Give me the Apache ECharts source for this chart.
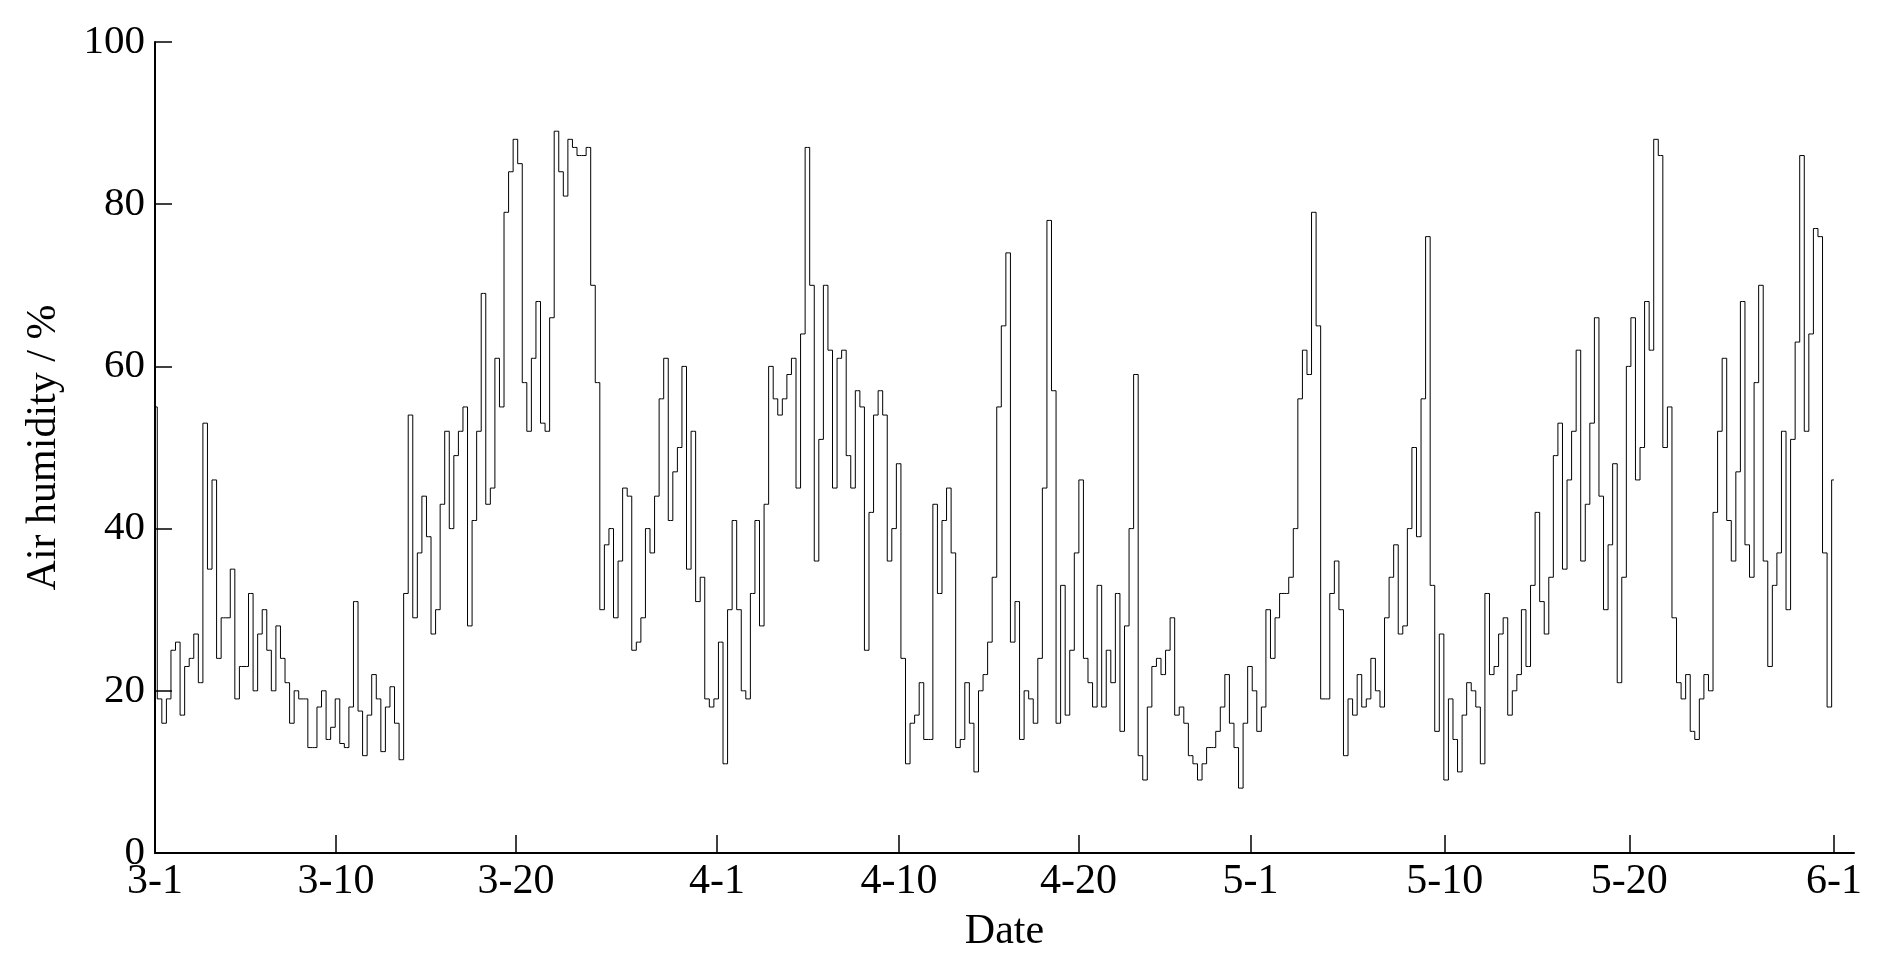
<!DOCTYPE html>
<html>
<head>
<meta charset="utf-8">
<script src="https://cdn.jsdelivr.net/npm/echarts@6/dist/echarts.min.js"></script>
<style>
  html, body { margin: 0; padding: 0; background: #fff; }
  #main { width: 1902px; height: 979px; }
</style>
</head>
<body>
<div id="main"></div>
<script>
// air humidity, one reading every 6 hours from 3-1 (day 0)
var stepDays = 0.25;
var humidity = [
  55, 19, 16, 19, 25, 26, 17, 23, 24, 27, 21, 53, 35, 46, 24, 29, 29, 35, 19, 23,
  23, 32, 20, 27, 30, 25, 20, 28, 24, 21, 16, 20, 19, 19, 13, 13, 18, 20, 14, 15.5,
  19, 13.5, 13, 18, 31, 17.5, 12, 17, 22, 19, 12.5, 18, 20.5, 16, 11.5, 32, 54, 29, 37, 44,
  39, 27, 30, 43, 52, 40, 49, 52, 55, 28, 41, 52, 69, 43, 45, 61, 55, 79, 84, 88,
  85, 58, 52, 61, 68, 53, 52, 66, 89, 84, 81, 88, 87, 86, 86, 87, 70, 58, 30, 38,
  40, 29, 36, 45, 44, 25, 26, 29, 40, 37, 44, 56, 61, 41, 47, 50, 60, 35, 52, 31,
  34, 19, 18, 19, 26, 11, 30, 41, 30, 20, 19, 32, 41, 28, 43, 60, 56, 54, 56, 59,
  61, 45, 64, 87, 70, 36, 51, 70, 62, 45, 61, 62, 49, 45, 57, 55, 25, 42, 54, 57,
  54, 36, 40, 48, 24, 11, 16, 17, 21, 14, 14, 43, 32, 41, 45, 37, 13, 14, 21, 16,
  10, 20, 22, 26, 34, 55, 65, 74, 26, 31, 14, 20, 19, 16, 24, 45, 78, 57, 16, 33,
  17, 25, 37, 46, 24, 21, 18, 33, 18, 25, 21, 32, 15, 28, 40, 59, 12, 9, 18, 23,
  24, 22, 25, 29, 17, 18, 16, 12, 11, 9, 11, 13, 13, 15, 18, 22, 16, 13, 8, 16,
  23, 20, 15, 18, 30, 24, 29, 32, 32, 34, 40, 56, 62, 59, 79, 65, 19, 19, 32, 36,
  30, 12, 19, 17, 22, 18, 19, 24, 20, 18, 29, 34, 38, 27, 28, 40, 50, 39, 56, 76,
  33, 15, 27, 9, 19, 14, 10, 17, 21, 20, 18, 11, 32, 22, 23, 27, 29, 17, 20, 22,
  30, 23, 33, 42, 31, 27, 34, 49, 53, 35, 46, 52, 62, 36, 43, 53, 66, 44, 30, 38,
  48, 21, 34, 60, 66, 46, 50, 68, 62, 88, 86, 50, 55, 29, 21, 19, 22, 15, 14, 19,
  22, 20, 42, 52, 61, 41, 36, 47, 68, 38, 34, 58, 70, 36, 23, 33, 37, 52, 30, 51,
  63, 86, 52, 64, 77, 76, 37, 18, 46
];
var tickDays = [0, 9.92, 19.78, 30.79, 40.77, 50.6, 60.03, 70.68, 80.79, 92];
var tickLabels = ['3-1', '3-10', '3-20', '4-1', '4-10', '4-20', '5-1', '5-10', '5-20', '6-1'];
var xMax = 93.1;

var seriesData = humidity.map(function (v, i) { return [i * stepDays, v]; });
var font = "'Liberation Serif', 'Times New Roman', serif";

var myChart = echarts.init(document.getElementById('main'));
var option = {
    backgroundColor: '#fff',
    animation: false,
    grid: { left: 155, right: 48, top: 42, bottom: 126 },
    xAxis: {
        type: 'value',
        min: 0,
        max: xMax,
        name: 'Date',
        nameLocation: 'middle',
        nameGap: 58,
        nameTextStyle: { color: '#000', fontFamily: font, fontSize: 42 },
        axisLine: { lineStyle: { color: '#000', width: 2 } },
        axisTick: {
            inside: true, length: 18, customValues: tickDays,
            lineStyle: { color: '#000', width: 1.5 }
        },
        axisLabel: {
            customValues: tickDays,
            color: '#000', fontFamily: font, fontSize: 42, margin: 8,
            formatter: function (v) {
                var idx = tickDays.indexOf(v);
                return idx >= 0 ? tickLabels[idx] : '';
            }
        },
        splitLine: { show: false }
    },
    yAxis: {
        type: 'value',
        min: 0,
        max: 100,
        interval: 20,
        name: 'Air humidity / %',
        nameLocation: 'middle',
        nameGap: 90,
        nameTextStyle: { color: '#000', fontFamily: font, fontSize: 42 },
        axisLine: { show: true, lineStyle: { color: '#000', width: 2 } },
        axisTick: { show: true, inside: true, length: 17, lineStyle: { color: '#000', width: 1.5 } },
        axisLabel: { color: '#000', fontFamily: font, fontSize: 41, margin: 10 },
        splitLine: { show: false }
    },
    series: [{
        name: 'Air humidity',
        type: 'line',
        step: 'middle',
        data: seriesData,
        showSymbol: false,
        lineStyle: { color: '#000', width: 1 }
    }]
};
myChart.setOption(option);
</script>
</body>
</html>
